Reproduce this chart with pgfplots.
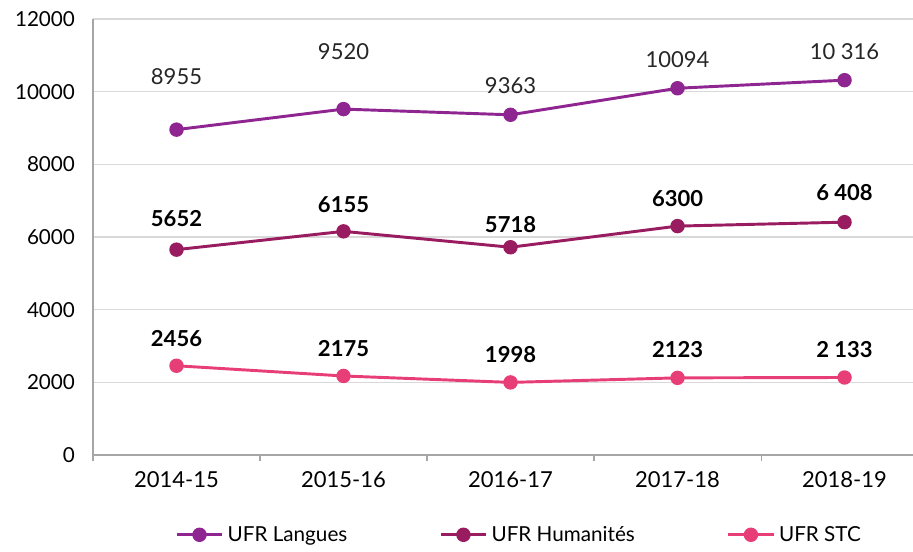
\documentclass[border=0pt]{standalone}
\usepackage{fontspec}
\setmainfont{Lato}
\usepackage{pgfplots}
\pgfplotsset{compat=1.18}
\usetikzlibrary{calc}
\definecolor{langues}{HTML}{8E2590}
\definecolor{humanites}{HTML}{9A1C60}
\definecolor{stc}{HTML}{E83E78}
\definecolor{gridgray}{HTML}{D9D9D9}
\definecolor{axisgray}{HTML}{A6A6A6}
\begin{document}
\begin{tikzpicture}
\begin{axis}[
    scale only axis,
    width=615pt,
    height=327pt,
    xmin=-0.5, xmax=4.41,
    ymin=0, ymax=12000,
    xtick={0,1,2,3,4},
    xticklabels={2014-15,2015-16,2016-17,2017-18,2018-19},
    minor xtick={-0.5,0.5,1.5,2.5,3.5},
    ytick={0,2000,4000,6000,8000,10000,12000},
    scaled ticks=false,
    major tick length=0pt,
    minor tick length=4.5pt,
    tick align=outside,
    tick style={axisgray, line width=0.8pt},
    axis x line*=bottom,
    axis y line*=left,
    axis line style={axisgray, line width=0.9pt, -},
    ymajorgrids=true,
    grid style={gridgray, line width=0.9pt},
    /pgf/number format/assume math mode=true,
    /pgf/number format/set thousands separator={},
    xticklabel style={font=\fontsize{16.5}{19}\selectfont, yshift=-9pt},
    yticklabel style={font=\fontsize{15.5}{18}\selectfont, xshift=-10pt},
    every axis plot/.append style={line width=2.2pt, mark=*, mark size=4.3pt},
    legend columns=3,
    legend style={at={(0.52,-0.183)}, anchor=center, draw=none,
        font=\fontsize{15.5}{18}\selectfont,
        /tikz/every even column/.append style={column sep=67pt},
        /tikz/every odd column/.append style={column sep=1pt}},
    legend cell align=left,
    legend image code/.code={
        \draw[mark repeat=2, mark phase=2] plot coordinates {(0pt,0pt) (17pt,0pt) (34pt,0pt)};
    },
    clip=false,
]
\addplot[color=langues, mark options={fill=langues}] coordinates {
    (0,8955) (1,9520) (2,9363) (3,10094) (4,10316)
};
\addlegendentry{UFR Langues}
\addplot[color=humanites, mark options={fill=humanites}] coordinates {
    (0,5652) (1,6155) (2,5718) (3,6300) (4,6408)
};
\addlegendentry{UFR Humanités}
\addplot[color=stc, mark options={fill=stc}] coordinates {
    (0,2456) (1,2175) (2,1998) (3,2123) (4,2133)
};
\addlegendentry{UFR STC}
% data labels
\begin{scope}[every node/.style={font=\fontsize{16.5}{19}\selectfont, text=black!85}]
\node at (axis cs:0,10404) {8955};
\node at (axis cs:1,11091) {9520};
\node at (axis cs:2,10156) {9363};
\node at (axis cs:3,10872) {10094};
\node at (axis cs:4,11091) {10 316};
\end{scope}
\begin{scope}[every node/.style={font=\fontsize{16.5}{19}\selectfont\bfseries, text=black}]
\node at (axis cs:0,6495) {5652};
\node at (axis cs:1,6881) {6155};
\node at (axis cs:2,6330) {5718};
\node at (axis cs:3,7046) {6300};
\node at (axis cs:4,7211) {6 408};
\node at (axis cs:0,3193) {2456};
\node at (axis cs:1,2917) {2175};
\node at (axis cs:2,2752) {1998};
\node at (axis cs:3,2890) {2123};
\node at (axis cs:4,2890) {2 133};
\end{scope}
\coordinate (bl) at (rel axis cs:0,0);
\coordinate (tr) at (rel axis cs:1,1);
\end{axis}
\pgfresetboundingbox
\path[use as bounding box] ($(bl)+(-69.75pt,-72.75pt)$) rectangle ($(tr)+(0,14.25pt)$);
\end{tikzpicture}
\end{document}
